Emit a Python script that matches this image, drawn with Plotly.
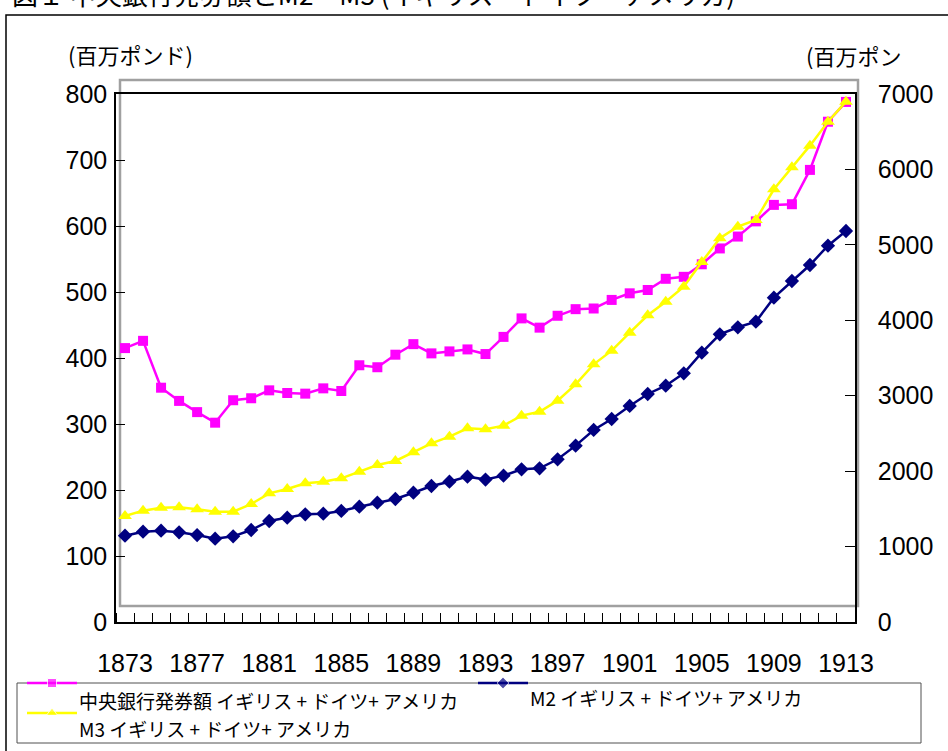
import plotly.graph_objects as go

W, H = 948, 751

years = list(range(1873, 1914))

notes = [415, 426, 355, 335, 318, 302, 336, 339, 351, 347,
         346, 354, 350, 389, 386, 405, 421, 407, 410, 413,
         406, 432, 460, 446, 464, 474, 475, 488, 498, 503,
         520, 523, 542, 566, 584, 607, 632, 633, 685, 758, 788]

m2 = [1144, 1197, 1211, 1189, 1153, 1105, 1136, 1220, 1339, 1383,
      1427, 1436, 1472, 1529, 1582, 1631, 1714, 1803, 1860, 1927,
      1888, 1940, 2024, 2037, 2157, 2338, 2546, 2691, 2864, 3023,
      3133, 3297, 3571, 3814, 3907, 3982, 4300, 4521, 4733, 4989, 5184]

m3 = [1405, 1476, 1516, 1520, 1494, 1463, 1463, 1564, 1706, 1763,
      1839, 1860, 1905, 1993, 2081, 2135, 2250, 2369, 2457, 2568,
      2555, 2603, 2736, 2788, 2934, 3151, 3416, 3597, 3836, 4066,
      4247, 4446, 4773, 5087, 5241, 5330, 5737, 6028, 6315, 6633, 6898]

xlabels = list(range(1873, 1914, 4))
left_ticks = list(range(0, 801, 100))
right_ticks = list(range(0, 7001, 1000))

name_notes = "中央銀行発券額 イギリス + ドイツ+ アメリカ"
name_m2 = "M2 イギリス + ドイツ+ アメリカ"
name_m3 = "M3 イギリス + ドイツ+ アメリカ"
title_text = "図１ 中央銀行発券額とM2・M3 (イギリス・ドイツ・アメリカ)"

MAG = "#FF00FF"
YEL = "#FFFF00"
NAVY = "#000080"
NUMFONT = "Liberation Sans, Arial, sans-serif"
JPFONT = "Noto Sans CJK JP, sans-serif"


def px(x):
    return x / W


def py(y):
    return 1 - y / H


fig = go.Figure()

fig.add_trace(go.Scatter(x=years, y=m3, name=name_m3, mode="lines+markers",
                         line=dict(color=YEL, width=2.5),
                         marker=dict(symbol="triangle-up", size=12, color=YEL),
                         xaxis="x", yaxis="y2", showlegend=False))
fig.add_trace(go.Scatter(x=years, y=m2, name=name_m2, mode="lines+markers",
                         line=dict(color=NAVY, width=2.5),
                         marker=dict(symbol="diamond", size=11, color=NAVY),
                         xaxis="x", yaxis="y2", showlegend=False))
fig.add_trace(go.Scatter(x=years, y=notes, name=name_notes, mode="lines+markers",
                         line=dict(color=MAG, width=2.5),
                         marker=dict(symbol="square", size=10, color=MAG),
                         xaxis="x", yaxis="y", showlegend=False))

# legend samples on a full-figure overlay axis (pixel coordinates)
leg = [
    (27, 77, 683, MAG, "square", 9),
    (27, 77, 713, YEL, "triangle-up", 10),
    (478, 528, 683, NAVY, "diamond", 9),
]
for x0, x1, yy, col, sym, sz in leg:
    fig.add_trace(go.Scatter(x=[x0, (x0 + x1) / 2, x1], y=[yy, yy, yy],
                             mode="lines+markers",
                             line=dict(color=col, width=2.5),
                             marker=dict(symbol=sym, size=[0, sz, 0], color=col),
                             xaxis="x3", yaxis="y3", showlegend=False,
                             hoverinfo="skip", cliponaxis=False))

boundaries = [y - 0.5 for y in years] + [years[-1] + 0.5]

fig.update_layout(
    template="none",
    width=W, height=H, autosize=False,
    margin=dict(l=0, r=0, t=0, b=0, pad=0, autoexpand=False),
    paper_bgcolor="white",
    plot_bgcolor="rgba(0,0,0,0)",
    showlegend=False,
    xaxis=dict(
        domain=[px(116), px(855)],
        range=[1872.5, 1913.5],
        tickmode="array", tickvals=xlabels, ticktext=[str(v) for v in xlabels],
        ticks="", ticklabelstandoff=18,
        minor=dict(tickmode="array", tickvals=boundaries, ticks="inside",
                   ticklen=9, tickcolor="black", tickwidth=1, showgrid=False),
        showline=True, linecolor="black", linewidth=1.5, mirror=True,
        showgrid=False, zeroline=False, automargin=False,
        tickfont=dict(family=NUMFONT, size=25, color="black"),
        anchor="y",
    ),
    yaxis=dict(
        domain=[py(622), py(94)],
        range=[0, 800],
        tickmode="array", tickvals=left_ticks,
        ticks="inside", ticklen=9, tickcolor="black",
        showline=True, linecolor="black", linewidth=1.5,
        showgrid=False, zeroline=False, automargin=False,
        tickfont=dict(family=NUMFONT, size=25, color="black"),
        ticklabelstandoff=2,
        anchor="x",
    ),
    yaxis2=dict(
        range=[0, 7000], overlaying="y", side="right",
        tickmode="array", tickvals=right_ticks,
        ticks="inside", ticklen=10, tickcolor="black",
        showline=True, linecolor="black", linewidth=1.5,
        showgrid=False, zeroline=False, automargin=False,
        tickfont=dict(family=NUMFONT, size=25, color="black"),
        ticklabelstandoff=16,
        anchor="x",
    ),
    xaxis3=dict(domain=[0, 1], range=[0, W], visible=False, fixedrange=True,
                automargin=False, anchor="y3"),
    yaxis3=dict(domain=[0, 1], range=[H, 0], visible=False, fixedrange=True,
                automargin=False, anchor="x3"),
)

shapes = [
    # outer chart frame
    dict(type="rect", xref="paper", yref="paper",
         x0=px(6), x1=px(970), y0=py(15), y1=py(770),
         line=dict(color="black", width=1.5), layer="below"),
    # excel plot-area border (gray)
    dict(type="rect", xref="paper", yref="paper",
         x0=px(120), x1=px(858), y0=py(80), y1=py(606),
         line=dict(color="#a0a0a0", width=2.5), layer="below"),
    # legend box
    dict(type="rect", xref="paper", yref="paper",
         x0=px(17), x1=px(921), y0=py(683), y1=py(743),
         line=dict(color="#505050", width=1), fillcolor="white", layer="below"),
]
fig.update_layout(shapes=shapes)

ann = [
    dict(text=title_text, x=px(10), y=py(-7), xanchor="left", yanchor="middle",
         font=dict(family=JPFONT, size=26, color="black")),
    dict(text="(百万ポンド)", x=px(66), y=py(54), xanchor="left", yanchor="middle",
         font=dict(family=JPFONT, size=22, color="black")),
    dict(text="(百万ポン", x=px(804), y=py(55), xanchor="left", yanchor="middle",
         font=dict(family=JPFONT, size=22, color="black")),
    dict(text=name_notes, x=px(77), y=py(700), xanchor="left", yanchor="middle",
         font=dict(family=JPFONT, size=19, color="black")),
    dict(text=name_m2, x=px(528), y=py(697), xanchor="left", yanchor="middle",
         font=dict(family=JPFONT, size=19, color="black")),
    dict(text=name_m3, x=px(77), y=py(728), xanchor="left", yanchor="middle",
         font=dict(family=JPFONT, size=19, color="black")),
]
for a in ann:
    a.update(xref="paper", yref="paper", showarrow=False)
fig.update_layout(annotations=ann)

fig.write_html("out.html",
               config={"displayModeBar": False},
               post_script="document.body.style.margin='0';"
                           "document.body.style.overflow='hidden';")
